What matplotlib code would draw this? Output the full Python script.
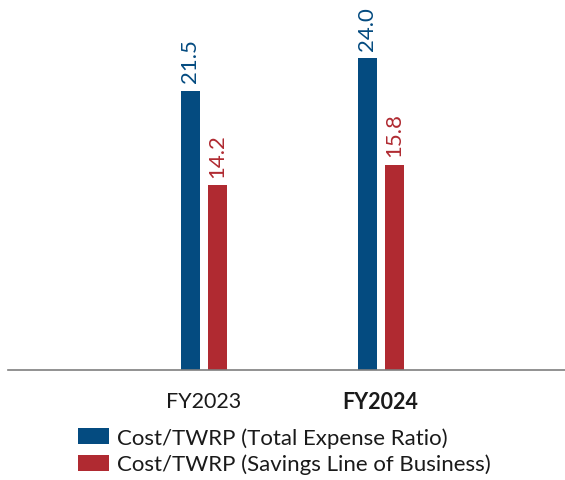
import matplotlib
matplotlib.use("Agg")
import matplotlib.pyplot as plt
from matplotlib.patches import Patch

plt.rcParams['font.family'] = ['Lato', 'DejaVu Sans']

categories = ["FY2023", "FY2024"]
series_names = ["Cost/TWRP (Total Expense Ratio)", "Cost/TWRP (Savings Line of Business)"]
total_expense = [21.5, 24.0]
savings_lob = [14.2, 15.8]
value_labels_total = ["21.5", "24.0"]
value_labels_savings = ["14.2", "15.8"]

blue = "#044b80"
red = "#b02a31"
text_color = "#1a1a1a"

fig = plt.figure(figsize=(5.65, 4.81), dpi=100)
ax = fig.add_axes([8/565, 1 - 371/481, 1 - 8/565, (371 - 7)/481])

x = list(range(len(categories)))
w = 0.1076
off = 0.0765
b1 = ax.bar([i - off for i in x], total_expense, width=w, color=blue)
b2 = ax.bar([i + off for i in x], savings_lob, width=w, color=red)

for bars, labels, col in [(b1, value_labels_total, blue), (b2, value_labels_savings, red)]:
    for rect, lab in zip(bars, labels):
        ax.annotate(lab, (rect.get_x() + rect.get_width() / 2, rect.get_height()),
                    xytext=(0, 6), textcoords="offset points", rotation=90,
                    ha="center", va="bottom", fontsize=16, color=col)

ax.set_xlim(-1.11, 2.045)
ax.set_ylim(0, 28)
ax.set_xticks(x)
ax.set_xticklabels(categories, fontsize=15.5, color=text_color)
ax.get_xticklabels()[1].set_fontweight("bold")
ax.tick_params(axis="x", length=0, pad=15)
ax.set_yticks([])
for s in ["left", "right", "top"]:
    ax.spines[s].set_visible(False)
ax.spines["bottom"].set_color("#7f7f7f")
ax.spines["bottom"].set_linewidth(1.2)

handles = [Patch(facecolor=blue), Patch(facecolor=red)]
fig.legend(handles, series_names, loc="upper left", bbox_to_anchor=(78/565, 1 - 428/481),
           frameon=False, fontsize=16, handlelength=1.40, handleheight=0.72,
           handletextpad=0.36, labelspacing=0.28, borderpad=0, borderaxespad=0,
           labelcolor=text_color)

fig.savefig("out.png", dpi=100)
